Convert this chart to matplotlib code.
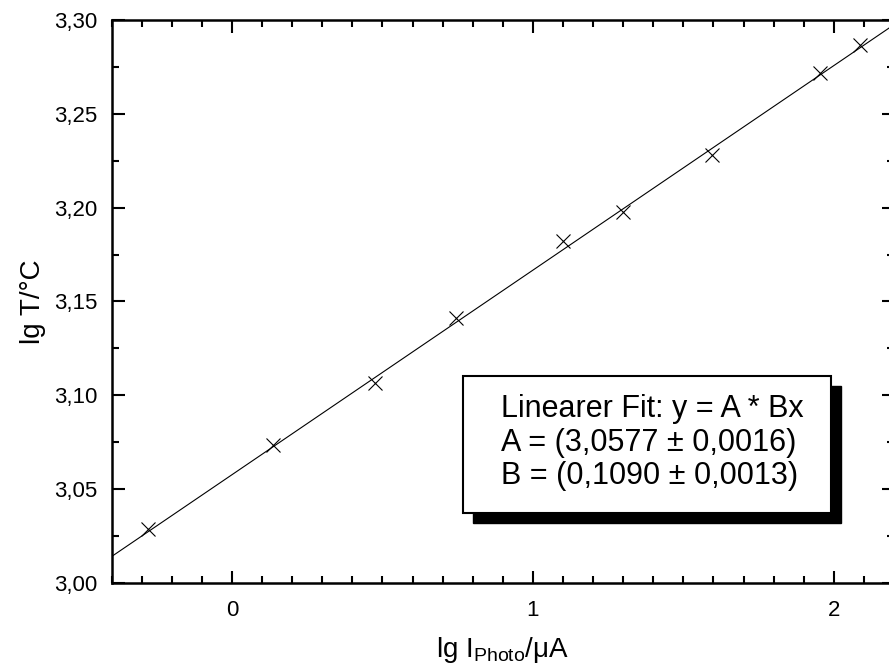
import matplotlib
matplotlib.use("Agg")
import matplotlib.pyplot as plt
import numpy as np
from matplotlib.ticker import MultipleLocator, FuncFormatter
from matplotlib.patches import Rectangle

plt.rcParams['font.family'] = ['Liberation Sans', 'DejaVu Sans']
plt.rcParams['mathtext.fontset'] = 'custom'
plt.rcParams['mathtext.rm'] = 'Liberation Sans'
plt.rcParams['mathtext.it'] = 'Liberation Sans:italic'

# data
lg_I = [-0.28, 0.137, 0.475, 0.746, 1.10, 1.301, 1.596, 1.953, 2.086]
lg_T = [3.029, 3.0735, 3.1064, 3.1414, 3.1825, 3.1976, 3.2278, 3.272, 3.2868]
fit_A = 3.0577
fit_B = 0.1090
x_range = [-0.4, 2.2]
y_range = [3.00, 3.30]
fit_lines = ["Linearer Fit: y = A * Bx",
             "A = (3,0577 \u00b1 0,0016)",
             "B = (0,1090 \u00b1 0,0013)"]

W, H = 889, 671
fig = plt.figure(figsize=(W/100, H/100), dpi=100)
ax = fig.add_axes([111.6/W, (H-583)/H, (894-111.6)/W, (583-20)/H])

xf = np.array(x_range)
ax.plot(xf, fit_A + fit_B*xf, color='black', lw=0.8)
ax.plot(lg_I, lg_T, linestyle='none', marker='x', color='black',
        markersize=10, markeredgewidth=0.8)

ax.set_xlim(*x_range)
ax.set_ylim(*y_range)
ax.xaxis.set_major_locator(MultipleLocator(1))
ax.xaxis.set_minor_locator(MultipleLocator(0.1))
ax.yaxis.set_major_locator(MultipleLocator(0.05))
ax.yaxis.set_minor_locator(MultipleLocator(0.025))
ax.xaxis.set_major_formatter(FuncFormatter(lambda v, p: f"{v:.0f}"))
ax.yaxis.set_major_formatter(FuncFormatter(lambda v, p: f"{v:.2f}".replace('.', ',')))
ax.tick_params(which='both', direction='in', top=True, right=True, width=1.5,
               labelsize=16, pad=10)
ax.tick_params(which='major', length=9)
ax.tick_params(which='minor', length=5)
ax.tick_params(axis='x', which='major', pad=12)
for s in ax.spines.values():
    s.set_linewidth(1.8)

ax.set_ylabel("lg T/\u00b0C", fontsize=20, labelpad=6)
ax.set_xlabel(r"lg I$_{\mathrm{Photo}}$/$\mathrm{\mu}$A", fontsize=20, labelpad=10)

# fit box with shadow (pixel geometry)
bx0, bx1, by0, by1 = 463, 831, 376, 513
off = 10
fig.patches.append(Rectangle(((bx0+off)/W, (H-by1-off)/H), (bx1-bx0)/W, (by1-by0)/H,
                             transform=fig.transFigure, facecolor='black',
                             edgecolor='black', zorder=5))
fig.patches.append(Rectangle((bx0/W, (H-by1)/H), (bx1-bx0)/W, (by1-by0)/H,
                             transform=fig.transFigure, facecolor='white',
                             edgecolor='black', lw=1.5, zorder=6))
for i, t in enumerate(fit_lines):
    fig.text(501/W, (H-(409+33.5*i))/H, t, fontsize=22, ha='left', va='center', zorder=7)

fig.savefig("out.png", dpi=100)
